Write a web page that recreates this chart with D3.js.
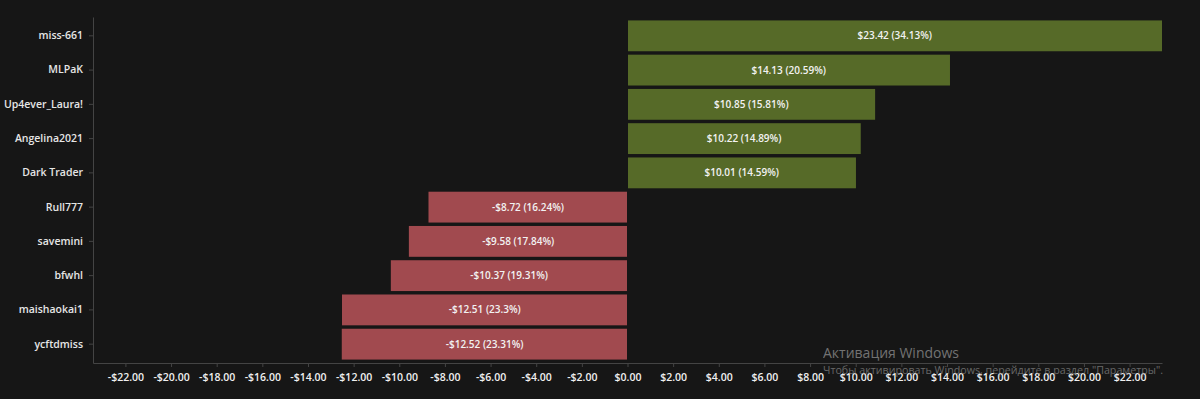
<!DOCTYPE html>
<html>
<head>
<meta charset="utf-8">
<script src="https://cdn.jsdelivr.net/npm/d3@7"></script>
<style>
  html, body { margin: 0; padding: 0; background: #161616; overflow: hidden; }
  svg text { font-family: "Open Sans", "Noto Sans", sans-serif; }
</style>
</head>
<body>
<div id="chart"></div>
<script>
// traders and their profit / share
const traders = ["miss-661", "MLPaK", "Up4ever_Laura!", "Angelina2021", "Dark Trader",
                 "Rull777", "savemini", "bfwhl", "maishaokai1", "ycftdmiss"];
const profits = [23.42, 14.13, 10.85, 10.22, 10.01, -8.72, -9.58, -10.37, -12.51, -12.52];
const shares = ["34.13%", "20.59%", "15.81%", "14.89%", "14.59%",
                "16.24%", "17.84%", "19.31%", "23.3%", "23.31%"];
const xTicks = [-22, -20, -18, -16, -14, -12, -10, -8, -6, -4, -2, 0, 2, 4, 6, 8, 10, 12, 14, 16, 18, 20, 22];

const width = 1200, height = 399;
const margin = {top: 17, right: 38, bottom: 36, left: 93};

const data = traders.map((t, i) => ({name: t, value: profits[i], share: shares[i]}));

const svg = d3.select("#chart")
  .append("svg")
    .attr("width", width)
    .attr("height", height);

const maxAbs = d3.max(profits, d => Math.abs(d));
const x = d3.scaleLinear()
  .domain([-maxAbs, maxAbs])
  .range([margin.left, width - margin.right]);

const y = d3.scaleBand()
  .domain(traders)
  .range([margin.top, height - margin.bottom])
  .padding(0.1);

const fmt = v => (v < 0 ? "-$" : "$") + Math.abs(v).toFixed(2);

// x axis
const xAxis = svg.append("g")
  .attr("transform", `translate(0,${height - margin.bottom})`)
  .call(d3.axisBottom(x).tickValues(xTicks).tickFormat(fmt).tickSize(4).tickSizeOuter(0));
xAxis.select(".domain").attr("stroke", "#444");
xAxis.selectAll(".tick line").attr("stroke", "#444");
xAxis.selectAll("text")
  .attr("fill", "#f0f0f0")
  .attr("dy", "1.05em")
  .style("font-size", "10.5px")
  .style("font-weight", "600");

// y axis
const yAxis = svg.append("g")
  .attr("transform", `translate(${margin.left},0)`)
  .call(d3.axisLeft(y).tickSize(4).tickSizeOuter(0).tickPadding(6));
yAxis.select(".domain").attr("stroke", "#444");
yAxis.selectAll(".tick line").attr("stroke", "#444");
yAxis.selectAll("text")
  .attr("fill", "#e6e6e6")
  .style("font-size", "10.5px")
  .style("font-weight", "600");

// bars
svg.append("g")
  .selectAll("rect")
  .data(data)
  .join("rect")
    .attr("x", d => d.value < 0 ? x(d.value) : x(0) + 0.5)
    .attr("y", d => y(d.name))
    .attr("width", d => Math.abs(x(d.value) - x(0)) - 0.5)
    .attr("height", y.bandwidth())
    .attr("fill", d => d.value < 0 ? "#a14a4f" : "#566a28");

// value labels
svg.append("g")
  .selectAll("text")
  .data(data)
  .join("text")
    .attr("x", d => (x(d.value) + x(0)) / 2)
    .attr("y", d => y(d.name) + y.bandwidth() / 2)
    .attr("dy", "0.35em")
    .attr("text-anchor", "middle")
    .attr("fill", "#f2f2f2")
    .style("font-size", "10px")
    .style("font-weight", "600")
    .text(d => `${fmt(d.value)} (${d.share})`);

// OS watermark seen in the screenshot
svg.append("text")
  .attr("x", 823).attr("y", 358)
  .attr("fill", "#8a8a8a").attr("opacity", 0.8)
  .style("font-size", "14px")
  .text("Активация Windows");
svg.append("text")
  .attr("x", 823).attr("y", 374)
  .attr("fill", "#8a8a8a").attr("opacity", 0.7)
  .style("font-size", "10.7px")
  .text("Чтобы активировать Windows, перейдите в раздел \"Параметры\".");
</script>
</body>
</html>
